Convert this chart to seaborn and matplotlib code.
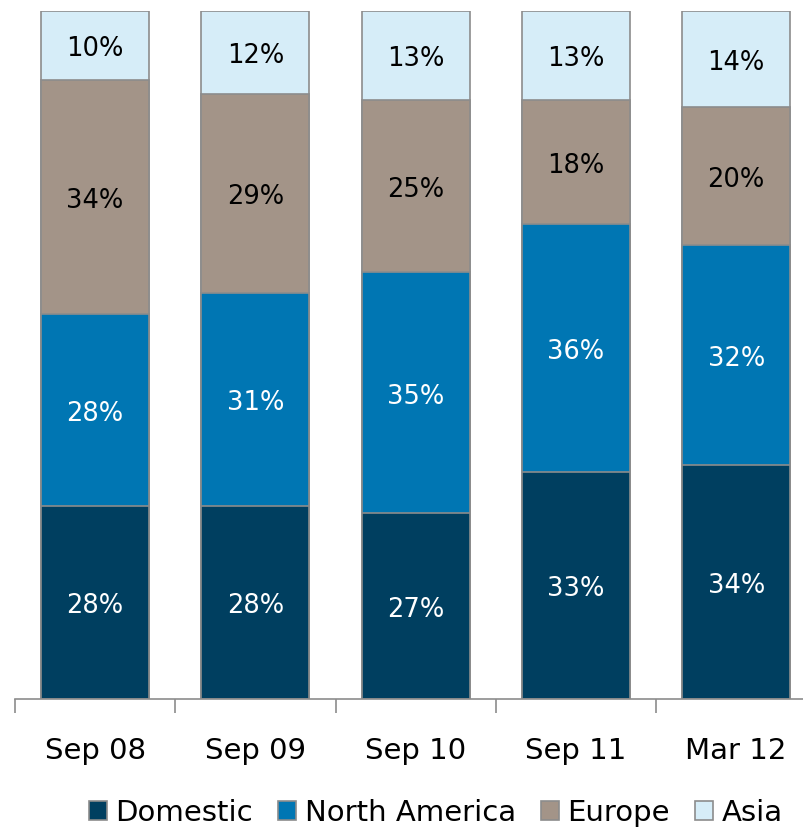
import numpy as np
import pandas as pd
import matplotlib
matplotlib.use("Agg")
import matplotlib.pyplot as plt
import seaborn as sns
from matplotlib.patches import Patch

categories = ["Sep 08", "Sep 09", "Sep 10", "Sep 11", "Mar 12"]
series_names = ["Domestic", "North America", "Europe", "Asia"]
domestic = [28, 28, 27, 33, 34]
north_america = [28, 31, 35, 36, 32]
europe = [34, 29, 25, 18, 20]
asia = [10, 12, 13, 13, 14]
colors = ["#003f60", "#0076b3", "#a39488", "#d6edf8"]
label_colors = ["white", "white", "black", "black"]

sns.set_theme(style="white")
plt.rcParams["font.family"] = ["DejaVu Sans"]
plt.rcParams["text.color"] = "black"
plt.rcParams["xtick.color"] = "black"

fig = plt.figure(figsize=(8.04, 8.28), dpi=100)
ax = fig.add_axes([15 / 804, 128 / 828, 801.25 / 804, 688 / 828])

series = [domestic, north_america, europe, asia]
cum = np.cumsum(np.array(series, dtype=float), axis=0)

# draw cumulative totals from top layer down (overlay stacking)
for i in range(len(series) - 1, -1, -1):
    df = pd.DataFrame({"cat": categories, "val": cum[i]})
    sns.barplot(data=df, x="cat", y="val", color=colors[i], saturation=1,
                width=0.674, edgecolor="#8c8c8c", linewidth=1.2, ax=ax)

for i, vals in enumerate(series):
    for j, v in enumerate(vals):
        mid = cum[i][j] - v / 2
        ax.text(j, mid - 0.4, f"{v}%", ha="center", va="center",
                fontsize=18.5, color=label_colors[i])

ax.set_xlim(-0.5, 4.5)
ax.set_ylim(0, 100)
ax.set_xlabel("")
ax.set_ylabel("")
ax.set_yticks([])
ax.set_xticks([-0.5, 0.5, 1.5, 2.5, 3.5, 4.5], minor=False)
ax.set_xticklabels([])
ax.set_xticks(range(5), minor=True)
ax.set_xticklabels(categories, minor=True, fontsize=21)
ax.tick_params(axis="x", which="major", length=10, width=1.2, color="#8c8c8c",
               direction="out", bottom=True)
ax.tick_params(axis="x", which="minor", length=0, pad=27, bottom=True,
               labelcolor="black")
for s in ["top", "right", "left"]:
    ax.spines[s].set_visible(False)
ax.spines["bottom"].set_color("#8c8c8c")
ax.spines["bottom"].set_linewidth(1.2)

handles = [Patch(facecolor=c, edgecolor="#8c8c8c", linewidth=1.2) for c in colors]
leg = fig.legend(handles, series_names, loc="lower center", bbox_to_anchor=(0.542, -0.031),
                 ncol=4, frameon=False, fontsize=21, handlelength=0.62, handleheight=0.62,
                 handletextpad=0.3, columnspacing=0.85)
for t in leg.get_texts():
    t.set_color("black")

fig.savefig("out.png", dpi=100)
